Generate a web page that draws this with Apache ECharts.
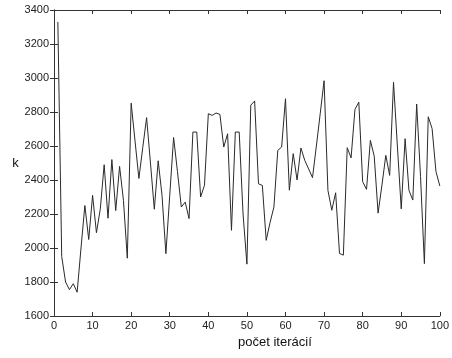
<!DOCTYPE html>
<html>
<head>
<meta charset="utf-8">
<script src="https://cdn.jsdelivr.net/npm/echarts@6/dist/echarts.min.js"></script>
<style>
html,body{margin:0;padding:0;background:#fff;}
#chart{width:452px;height:358px;}
</style>
</head>
<body>
<div id="chart"></div>
<script>
var iterations = [1,2,3,4,5,6,7,8,9,10,11,12,13,14,15,16,17,18,19,20,21,22,23,24,25,26,27,28,29,30,31,32,33,34,35,36,37,38,39,40,41,42,43,44,45,46,47,48,49,50,51,52,53,54,55,56,57,58,59,60,61,62,63,64,65,66,67,68,69,70,71,72,73,74,75,76,77,78,79,80,81,82,83,84,85,86,87,88,89,90,91,92,93,94,95,96,97,98,99,100];
var kValues = [3330,1950,1800,1755,1790,1740,2000,2250,2050,2310,2090,2230,2490,2175,2520,2220,2480,2280,1940,2852,2630,2409,2590,2767,2500,2228,2513,2310,1967,2310,2650,2450,2241,2270,2173,2682,2682,2300,2369,2790,2780,2794,2786,2594,2672,2104,2682,2682,2200,1905,2840,2865,2378,2368,2045,2150,2241,2574,2594,2878,2340,2555,2400,2588,2515,2465,2414,2600,2790,2984,2339,2222,2325,1968,1958,2590,2530,2815,2858,2390,2345,2633,2540,2205,2370,2545,2427,2975,2600,2230,2643,2339,2282,2847,2420,1908,2772,2702,2450,2365];
var xTitle = 'počet iterácií';
var yTitle = 'k';

var pts = iterations.map(function(x, i){ return [x, kValues[i]]; });
var font = 'Liberation Sans, Arial, sans-serif';
var axisColor = '#333';
var plain = function(v){ return String(v); };
var chart = echarts.init(document.getElementById('chart'), null, {renderer:'canvas'});
chart.setOption({
  animation: false,
  backgroundColor: '#fff',
  grid: {left: 54, right: 9, top: 10, bottom: 42, containLabel: false},
  xAxis: [{
    type: 'value', min: 0, max: 100, interval: 10, position: 'bottom',
    axisLine: {show: true, lineStyle: {color: axisColor, width: 1}},
    axisTick: {show: true, inside: true, length: 4, lineStyle: {color: axisColor}},
    axisLabel: {color: '#222', fontFamily: font, fontSize: 11, margin: 4, formatter: plain},
    splitLine: {show: false},
    name: xTitle, nameLocation: 'middle', nameGap: 20,
    nameTextStyle: {color: '#111', fontFamily: font, fontSize: 13, padding: [0,0,0,56]}
  },{
    type: 'value', min: 0, max: 100, interval: 10, position: 'top',
    axisLine: {show: true, lineStyle: {color: axisColor, width: 1}},
    axisTick: {show: true, inside: true, length: 4, lineStyle: {color: axisColor}},
    axisLabel: {show: false}, splitLine: {show: false}
  }],
  yAxis: [{
    type: 'value', min: 1600, max: 3400, interval: 200, position: 'left',
    axisLine: {show: true, lineStyle: {color: axisColor, width: 1}},
    axisTick: {show: true, inside: true, length: 4, lineStyle: {color: axisColor}},
    axisLabel: {color: '#222', fontFamily: font, fontSize: 11, margin: 5, formatter: plain},
    splitLine: {show: false},
    name: yTitle, nameLocation: 'middle', nameRotate: 0, nameGap: 31,
    nameTextStyle: {color: '#111', fontFamily: font, fontSize: 13}
  },{
    type: 'value', min: 1600, max: 3400, interval: 200, position: 'right',
    axisLine: {show: true, lineStyle: {color: axisColor, width: 1}},
    axisTick: {show: true, inside: true, length: 4, lineStyle: {color: axisColor}},
    axisLabel: {show: false}, splitLine: {show: false}
  }],
  series: [{
    type: 'line', data: pts, xAxisIndex: 0, yAxisIndex: 0,
    showSymbol: false, symbol: 'none', smooth: false,
    lineStyle: {color: '#2a2a2a', width: 1}
  }]
});
</script>
</body>
</html>
